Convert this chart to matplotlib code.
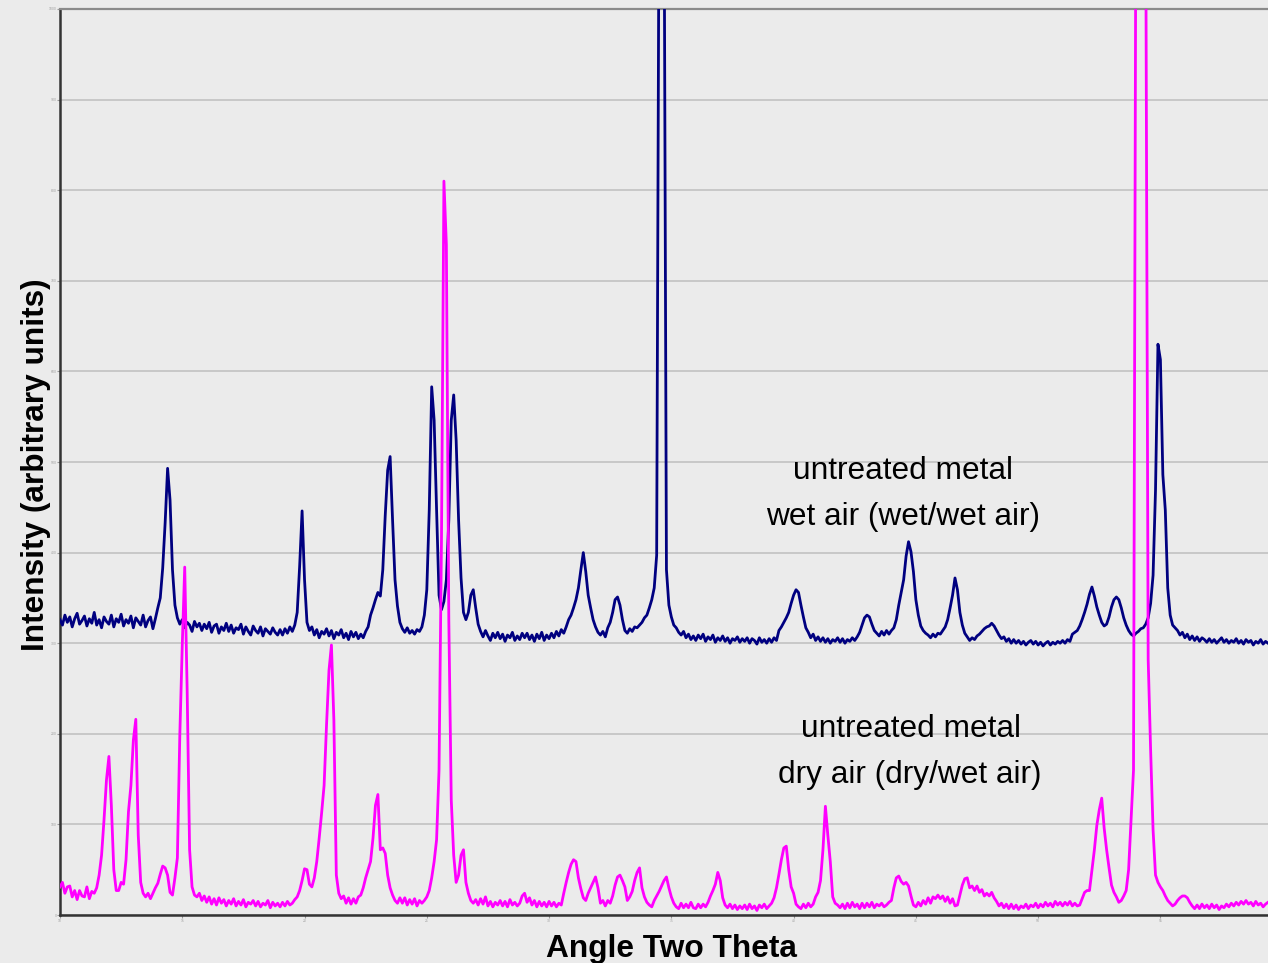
import numpy as np
import matplotlib
matplotlib.use("Agg")
import matplotlib.pyplot as plt

# ---------------- data ----------------
two_theta_start = 10.0   # degrees
two_theta_step = 0.1     # degrees per sample

# untreated metal, wet air (wet/wet air)
wet_counts = [
    326, 320, 331, 323, 329, 318, 327, 333, 321, 325,   # 10.x
    330, 319, 327, 322, 334, 320, 326, 317, 329, 324,   # 11.x
    321, 331, 318, 327, 323, 332, 319, 326, 322, 330,   # 12.x
    317, 328, 324, 320, 331, 318, 325, 329, 316, 327,   # 13.x
    339, 350, 383, 433, 493, 458, 381, 342, 328, 321,   # 14.x
    326, 317, 323, 320, 313, 324, 318, 322, 314, 321,   # 15.x
    316, 323, 312, 319, 321, 311, 318, 314, 322, 313,   # 16.x
    320, 311, 317, 315, 321, 310, 318, 313, 309, 319,   # 17.x
    314, 311, 318, 308, 316, 313, 310, 317, 312, 309,   # 18.x
    315, 309, 316, 311, 318, 313, 320, 334, 385, 446,   # 19.x
    370, 323, 314, 318, 309, 315, 306, 313, 310, 316,   # 20.x
    308, 314, 305, 312, 309, 315, 306, 311, 304, 313,   # 21.x
    307, 312, 305, 310, 306, 313, 318, 331, 339, 348,   # 22.x
    356, 352, 381, 441, 491, 506, 436, 370, 341, 323,   # 23.x
    316, 312, 317, 311, 314, 310, 315, 313, 318, 331,   # 24.x
    359, 447, 583, 546, 447, 353, 337, 346, 370, 436,   # 25.x
    546, 574, 524, 436, 372, 334, 326, 334, 353, 359,   # 26.x
    339, 321, 313, 307, 314, 308, 303, 311, 306, 312,   # 27.x
    305, 310, 302, 309, 306, 312, 303, 308, 304, 311,   # 28.x
    306, 311, 304, 309, 302, 310, 305, 312, 303, 309,   # 29.x
    305, 311, 306, 313, 308, 315, 311, 318, 326, 331,   # 30.x
    339, 348, 361, 381, 400, 379, 353, 339, 326, 318,   # 31.x
    312, 309, 313, 307, 317, 323, 334, 348, 351, 342,   # 32.x
    326, 314, 311, 316, 313, 318, 317, 320, 323, 328,   # 33.x
    331, 339, 348, 361, 397, 1150, 1800, 1150, 381, 342,  # 34.x
    329, 320, 317, 312, 309, 313, 306, 310, 304, 308,   # 35.x
    303, 309, 305, 310, 302, 307, 304, 309, 301, 306,   # 36.x
    303, 308, 302, 306, 300, 305, 303, 307, 301, 305,   # 37.x
    302, 306, 300, 305, 303, 299, 306, 301, 304, 300,   # 38.x
    305, 301, 306, 303, 314, 318, 323, 328, 334, 344,   # 39.x
    353, 359, 356, 342, 329, 317, 312, 306, 310, 303,   # 40.x
    307, 302, 306, 301, 305, 300, 304, 302, 306, 301,   # 41.x
    305, 300, 304, 302, 306, 303, 307, 312, 320, 328,   # 42.x
    331, 329, 321, 314, 311, 308, 313, 309, 314, 310,   # 43.x
    314, 317, 326, 342, 356, 370, 396, 412, 401, 379,   # 44.x
    348, 331, 319, 314, 311, 309, 306, 310, 307, 311,   # 45.x
    310, 314, 318, 326, 339, 353, 372, 359, 334, 320,   # 46.x
    311, 307, 303, 306, 304, 308, 310, 313, 316, 318,   # 47.x
    319, 322, 319, 314, 309, 305, 307, 302, 305, 300,   # 48.x
    304, 300, 303, 299, 302, 298, 301, 303, 299, 302,   # 49.x
    298, 301, 297, 300, 302, 298, 301, 299, 302, 300,   # 50.x
    303, 300, 304, 302, 310, 312, 314, 319, 326, 334,   # 51.x
    343, 354, 362, 352, 340, 331, 323, 319, 321, 329,   # 52.x
    340, 348, 351, 348, 339, 328, 320, 314, 310, 308,   # 53.x
    311, 313, 316, 317, 321, 328, 344, 375, 469, 630,   # 54.x
    613, 486, 447, 361, 331, 320, 317, 314, 309, 312,   # 55.x
    306, 310, 304, 308, 303, 307, 302, 306, 304, 301,   # 56.x
    305, 301, 304, 300, 303, 306, 301, 304, 300, 303,   # 57.x
    301, 305, 300, 303, 299, 304, 301, 303, 298, 302,   # 58.x
    300, 304, 299, 302, 300,                            # 59.0-59.4
]

# untreated metal, dry air (dry/wet air)
dry_counts = [
    31, 36, 24, 31, 32, 20, 27, 17, 27, 21,        # 10.x
    20, 31, 18, 26, 24, 30, 44, 66, 105, 149,      # 11.x
    175, 121, 50, 27, 27, 36, 34, 61, 114, 143,    # 12.x
    193, 216, 88, 36, 24, 20, 24, 18, 24, 30,      # 13.x
    35, 45, 54, 52, 44, 25, 22, 41, 63, 199,       # 14.x
    298, 384, 248, 72, 31, 22, 20, 24, 16, 21,     # 15.x
    14, 20, 12, 18, 11, 19, 13, 17, 10, 16,        # 16.x
    12, 18, 10, 15, 11, 17, 9, 14, 12, 16,         # 17.x
    10, 15, 9, 13, 11, 16, 8, 14, 10, 13,          # 18.x
    9, 14, 10, 15, 11, 13, 17, 20, 27, 38,         # 19.x
    51, 50, 34, 31, 41, 59, 85, 113, 143, 210,     # 20.x
    270, 298, 215, 44, 24, 18, 21, 13, 19, 12,     # 21.x
    18, 13, 20, 22, 30, 41, 50, 59, 85, 121,       # 22.x
    133, 72, 74, 68, 44, 30, 22, 16, 13, 19,       # 23.x
    13, 19, 11, 17, 12, 18, 10, 16, 13, 16,        # 24.x
    20, 27, 41, 59, 83, 160, 414, 810, 740, 326,   # 25.x
    127, 66, 36, 44, 66, 72, 36, 24, 16, 13,       # 26.x
    17, 11, 18, 12, 20, 10, 15, 9, 14, 11,         # 27.x
    16, 10, 15, 9, 17, 11, 14, 10, 13, 21,         # 28.x
    24, 14, 19, 11, 16, 9, 15, 10, 14, 9,          # 29.x
    15, 10, 14, 9, 13, 11, 24, 36, 47, 56,         # 30.x
    61, 59, 41, 29, 19, 16, 24, 30, 36, 42,        # 31.x
    30, 13, 16, 10, 16, 13, 21, 33, 42, 44,        # 32.x
    38, 31, 16, 20, 26, 38, 47, 52, 30, 20,        # 33.x
    14, 11, 9, 16, 21, 26, 32, 38, 42, 30,         # 34.x
    20, 13, 9, 7, 13, 8, 12, 8, 14, 8,             # 35.x
    7, 12, 8, 12, 9, 14, 21, 27, 34, 47,           # 36.x
    38, 19, 11, 8, 12, 7, 11, 6, 10, 7,            # 37.x
    11, 6, 12, 7, 10, 5, 11, 8, 12, 7,             # 38.x
    10, 13, 19, 30, 45, 61, 74, 76, 50, 31,        # 39.x
    24, 12, 9, 7, 12, 8, 13, 9, 12, 20,            # 40.x
    25, 38, 72, 120, 88, 59, 20, 13, 11, 8,        # 41.x
    12, 7, 13, 8, 14, 9, 12, 7, 13, 8,             # 42.x
    13, 9, 14, 8, 12, 10, 13, 9, 11, 14,           # 43.x
    16, 30, 41, 43, 37, 34, 36, 32, 21, 11,        # 44.x
    9, 14, 10, 16, 12, 19, 13, 20, 18, 22,         # 45.x
    18, 21, 15, 20, 13, 18, 10, 11, 22, 33,        # 46.x
    40, 41, 30, 32, 27, 32, 25, 28, 21, 24,        # 47.x
    21, 25, 19, 15, 10, 13, 8, 12, 7, 12,          # 48.x
    7, 11, 6, 10, 8, 12, 7, 11, 9, 13,             # 49.x
    8, 12, 9, 14, 10, 13, 9, 15, 11, 14,           # 50.x
    10, 14, 11, 15, 10, 13, 10, 11, 18, 25,        # 51.x
    27, 27, 50, 72, 99, 116, 129, 96, 72, 52,      # 52.x
    33, 25, 20, 14, 16, 21, 27, 50, 105, 160,      # 53.x
    1150, 1600, 1850, 1600, 1100, 282, 182, 94, 44, 36,  # 54.x
    31, 27, 21, 16, 13, 10, 12, 16, 19, 21,        # 55.x
    21, 19, 14, 10, 7, 11, 7, 12, 8, 11,           # 56.x
    7, 12, 8, 11, 6, 10, 8, 12, 9, 13,             # 57.x
    10, 14, 11, 15, 12, 16, 12, 14, 10, 15,        # 58.x
    11, 13, 9, 12, 14,                             # 59.0-59.4
]

x_ticks = [10, 15, 20, 25, 30, 35, 40, 45, 50, 55]
y_ticks = [0, 100, 200, 300, 400, 500, 600, 700, 800, 900, 1000]

wet_label = ["untreated metal", "wet air (wet/wet air)"]
dry_label = ["untreated metal", "dry air (dry/wet air)"]
x_title = "Angle Two Theta"
y_title = "Intensity (arbitrary units)"

# ---------------- drawing ----------------
two_theta = np.round(two_theta_start + two_theta_step * np.arange(len(wet_counts)), 2)

fam = ["Liberation Sans", "DejaVu Sans"]
fs = 22.8

W, H = 1268, 963
bg = "#ebebeb"
fig = plt.figure(figsize=(W / 100, H / 100), dpi=100, facecolor=bg)
ax = fig.add_axes([60 / W, 48 / H, 1208 / W, 906 / H])
ax.set_facecolor(bg)

ax.plot(two_theta, wet_counts, color="#000080", lw=2.0, zorder=3)
ax.plot(two_theta, dry_counts, color="#ff00ff", lw=2.0, zorder=4)

ax.set_xlim(10, 59.4)
ax.set_ylim(0, 1000)
ax.set_xticks(x_ticks)
ax.set_yticks(y_ticks)
ax.yaxis.grid(True, color="#c2c2c2", lw=1.2)
ax.xaxis.grid(False)
ax.set_axisbelow(True)

ax.spines["right"].set_visible(False)
ax.spines["top"].set_color("#8a8a8a")
ax.spines["top"].set_linewidth(1.6)
ax.spines["left"].set_color("#333333")
ax.spines["left"].set_linewidth(1.8)
ax.spines["bottom"].set_color("#333333")
ax.spines["bottom"].set_linewidth(1.8)
# tick labels exist in the reference but are rendered as tiny grey specks
ax.tick_params(axis="both", length=2, width=0.8, color="#9a9a9a",
               labelsize=2.2, labelcolor="#9a9a9a", pad=0.6)

fig.text(672 / W, 1 - 957 / H, x_title, ha="center", va="baseline",
         fontsize=fs, fontweight="bold", family=fam, color="black")
fig.text(44 / W, 1 - 465 / H, y_title, ha="center", va="baseline",
         rotation=90, rotation_mode="anchor",
         fontsize=fs, fontweight="bold", family=fam, color="black")

fig.text(903 / W, 1 - 479 / H, wet_label[0], ha="center", va="baseline",
         fontsize=fs, family=fam, color="black")
fig.text(903 / W, 1 - 525 / H, wet_label[1], ha="center", va="baseline",
         fontsize=fs, family=fam, color="black")
fig.text(911 / W, 1 - 737 / H, dry_label[0], ha="center", va="baseline",
         fontsize=fs, family=fam, color="black")
fig.text(910 / W, 1 - 783 / H, dry_label[1], ha="center", va="baseline",
         fontsize=fs, family=fam, color="black")

fig.savefig("out.png", dpi=100, facecolor=bg)
